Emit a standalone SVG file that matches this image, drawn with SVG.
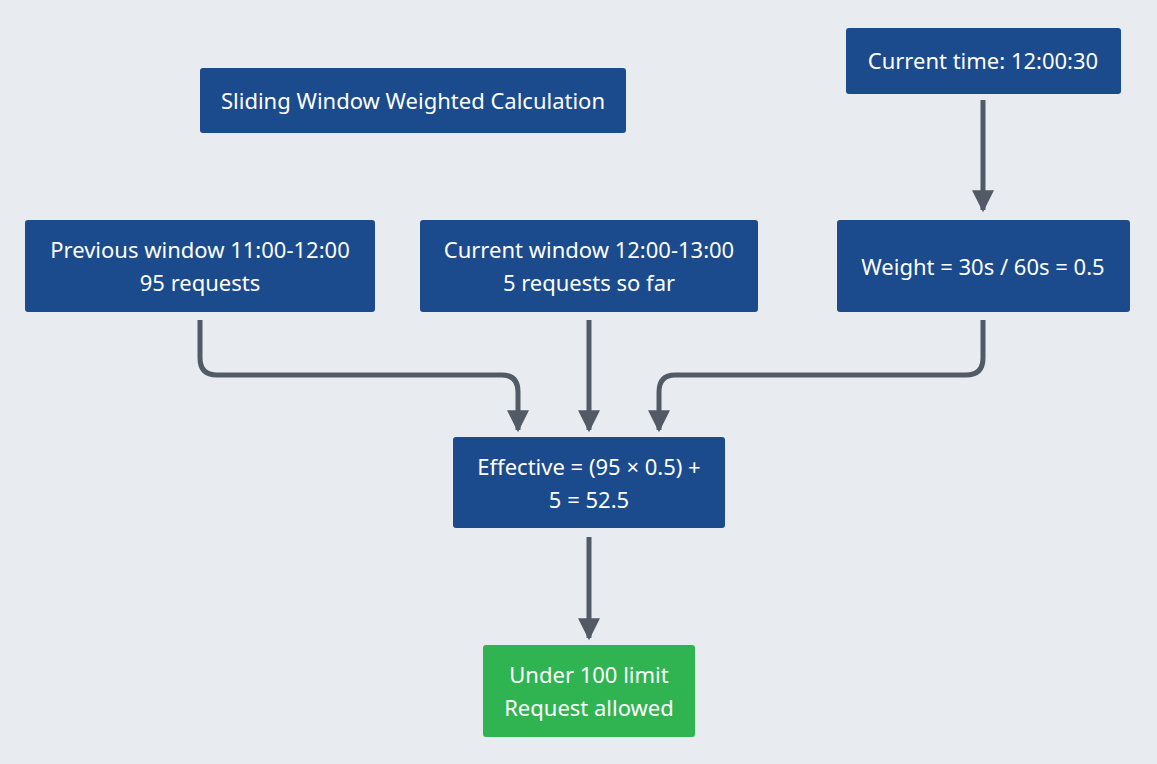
<svg xmlns="http://www.w3.org/2000/svg" width="1157" height="764" viewBox="0 0 1157 764">
<style>
.n{fill:#1b4b8c;rx:3}
.g{fill:#2fb451}
text{font-family:"Noto Sans","Liberation Sans",sans-serif;font-size:22px;fill:#fff;text-anchor:middle}
.c{fill:none;stroke:#525a66;stroke-width:5}
</style>
<defs><marker id="a" markerWidth="8" markerHeight="8" refX="4" refY="4" orient="auto" markerUnits="userSpaceOnUse" viewBox="0 0 8 8"><path d="M0,0L8,4L0,8z" fill="#525a66"/></marker>
<marker id="b" viewBox="0 0 10 10" refX="9" refY="5" markerWidth="24" markerHeight="22" markerUnits="userSpaceOnUse" orient="auto"><path d="M0,0L10,5L0,10z" fill="#525a66"/></marker></defs>
<rect width="1157" height="764" fill="#e8ecf1"/>
<g id="connectors">
<path class="c" d="M983,100V210" marker-end="url(#b)"/>
<path class="c" d="M200,320V358Q200,375 217,375H502Q518,375 518,392V430" marker-end="url(#b)"/>
<path class="c" d="M589,320V430" marker-end="url(#b)"/>
<path class="c" d="M983,320V358Q983,375 966,375H675Q659,375 659,392V430" marker-end="url(#b)"/>
<path class="c" d="M589,537V638" marker-end="url(#b)"/>
</g>
<g id="title"><rect class="n" x="200" y="68" width="426" height="65"/><text x="413" y="109">Sliding Window Weighted Calculation</text></g>
<g id="time"><rect class="n" x="846" y="28" width="275" height="66"/><text x="983" y="69">Current time: 12:00:30</text></g>
<g id="prev"><rect class="n" x="25" y="220" width="350" height="92"/><text x="200" y="258">Previous window 11:00-12:00</text><text x="200" y="291">95 requests</text></g>
<g id="cur"><rect class="n" x="420" y="220" width="338" height="92"/><text x="589" y="258">Current window 12:00-13:00</text><text x="589" y="291">5 requests so far</text></g>
<g id="weight"><rect class="n" x="837" y="220" width="293" height="92"/><text x="983" y="275">Weight = 30s / 60s = 0.5</text></g>
<g id="eff"><rect class="n" x="453" y="437" width="272" height="91"/><text x="589" y="475">Effective = (95 × 0.5) +</text><text x="589" y="508">5 = 52.5</text></g>
<g id="res"><rect class="g" x="483" y="645" width="212" height="92" rx="3"/><text x="589" y="683">Under 100 limit</text><text x="589" y="716">Request allowed</text></g>
</svg>
